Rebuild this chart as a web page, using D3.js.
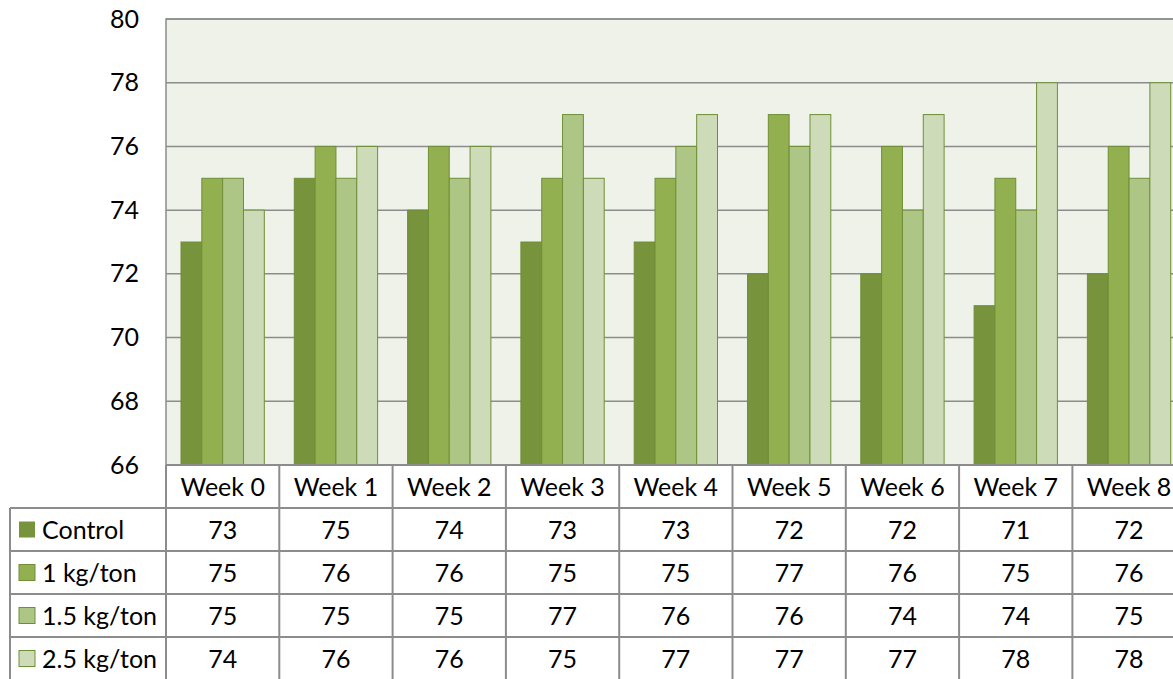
<!DOCTYPE html>
<html>
<head>
<meta charset="utf-8">
<script src="https://cdn.jsdelivr.net/npm/d3@7"></script>
<style>
  html, body { margin: 0; padding: 0; background: #fff; overflow: hidden; }
  text { font-family: Lato, "Open Sans", sans-serif; fill: #000; }
</style>
</head>
<body>
<div id="chart"></div>
<script>
// chart values
var weeks = ["Week 0", "Week 1", "Week 2", "Week 3", "Week 4", "Week 5", "Week 6", "Week 7", "Week 8"];
var seriesNames = ["Control", "1 kg/ton", "1.5 kg/ton", "2.5 kg/ton"];
var control = [73, 75, 74, 73, 73, 72, 72, 71, 72];
var kg1 = [75, 76, 76, 75, 75, 77, 76, 75, 76];
var kg15 = [75, 75, 75, 77, 76, 76, 74, 74, 75];
var kg25 = [74, 76, 76, 75, 77, 77, 77, 78, 78];
var yTicks = [66, 68, 70, 72, 74, 76, 78, 80];

var seriesValues = [control, kg1, kg15, kg25];
var colors = ["#77933c", "#92b050", "#adc686", "#cddbb8"];
var strokeColor = "#6f8f37";
var lineColor = "#8c8c8c";

var W = 1173, H = 679;
var plotLeft = 166, plotTop = 19, plotBottom = 465;
var catWidth = 113.3;
var plotRight = plotLeft + catWidth * weeks.length;
var rowH = 43;
var tableLeft = 10;
var fontSize = 25;

var svg = d3.select("#chart").append("svg")
    .attr("width", W)
    .attr("height", H);

var x0 = d3.scaleBand()
    .domain(weeks)
    .range([plotLeft, plotRight]);

var x1 = d3.scaleBand()
    .domain(seriesNames)
    .range([0, x0.bandwidth()])
    .paddingOuter(0.72);

var y = d3.scaleLinear()
    .domain([66, 80])
    .range([plotBottom, plotTop]);

// plot background
svg.append("rect")
    .attr("x", plotLeft)
    .attr("y", plotTop)
    .attr("width", plotRight - plotLeft)
    .attr("height", plotBottom - plotTop)
    .style("fill", "#eff2e9");

// gridlines
svg.append("g").selectAll("line")
    .data(yTicks.filter(function(d) { return d > 66; }))
  .enter().append("line")
    .attr("x1", plotLeft)
    .attr("x2", plotRight)
    .attr("y1", function(d) { return y(d); })
    .attr("y2", function(d) { return y(d); })
    .style("stroke", lineColor)
    .style("stroke-width", 1.5);

// y axis labels
var yAxis = d3.axisLeft(y).tickValues(yTicks).tickSize(0).tickPadding(27);
var yg = svg.append("g")
    .attr("transform", "translate(" + plotLeft + ",0)")
    .call(yAxis);
yg.select(".domain").remove();
yg.selectAll("text")
    .style("font-family", "Lato, 'Open Sans', sans-serif")
    .style("font-size", fontSize + "px")
    .style("fill", "#000");

// bars
var barData = [];
weeks.forEach(function(w, i) {
    seriesNames.forEach(function(s, j) {
        barData.push({ week: w, series: s, value: seriesValues[j][i], idx: j });
    });
});

svg.append("g").selectAll("rect")
    .data(barData)
  .enter().append("rect")
    .attr("x", function(d) { return x0(d.week) + x1(d.series); })
    .attr("y", function(d) { return y(d.value); })
    .attr("width", x1.bandwidth())
    .attr("height", function(d) { return plotBottom - y(d.value); })
    .style("fill", function(d) { return colors[d.idx]; })
    .style("stroke", strokeColor)
    .style("stroke-width", 1);

// plot border (top + left)
svg.append("path")
    .attr("d", "M" + plotRight + "," + plotTop + "H" + plotLeft + "V" + plotBottom)
    .style("fill", "none")
    .style("stroke", lineColor)
    .style("stroke-width", 1.5);

// data table
var table = svg.append("g");
var tableBottom = plotBottom + rowH * (seriesNames.length + 1);

// horizontal lines
table.append("line")
    .attr("x1", plotLeft).attr("x2", plotRight)
    .attr("y1", plotBottom).attr("y2", plotBottom)
    .style("stroke", lineColor).style("stroke-width", 2);
table.selectAll(".hline")
    .data(d3.range(1, seriesNames.length + 1))
  .enter().append("line")
    .attr("class", "hline")
    .attr("x1", tableLeft).attr("x2", plotRight)
    .attr("y1", function(d) { return plotBottom + d * rowH; })
    .attr("y2", function(d) { return plotBottom + d * rowH; })
    .style("stroke", lineColor).style("stroke-width", 2);

// vertical lines
table.selectAll(".vline")
    .data(weeks)
  .enter().append("line")
    .attr("class", "vline")
    .attr("x1", function(d) { return x0(d); })
    .attr("x2", function(d) { return x0(d); })
    .attr("y1", plotBottom).attr("y2", tableBottom)
    .style("stroke", lineColor).style("stroke-width", 2);
table.append("line")
    .attr("x1", tableLeft).attr("x2", tableLeft)
    .attr("y1", plotBottom + rowH).attr("y2", tableBottom)
    .style("stroke", lineColor).style("stroke-width", 2);

// header labels
table.selectAll(".head")
    .data(weeks)
  .enter().append("text")
    .attr("class", "head")
    .attr("x", function(d) { return x0(d) + x0.bandwidth() / 2; })
    .attr("y", plotBottom + rowH / 2)
    .attr("dy", "0.36em")
    .attr("text-anchor", "middle")
    .style("font-size", fontSize + "px")
    .text(function(d) { return d; });

// legend keys + names
seriesNames.forEach(function(s, j) {
    var cy = plotBottom + (j + 1) * rowH + rowH / 2;
    table.append("rect")
        .attr("x", 19)
        .attr("y", cy - 8)
        .attr("width", 16)
        .attr("height", 16)
        .style("fill", colors[j])
        .style("stroke", j === 0 ? "none" : strokeColor)
        .style("stroke-width", 1);
    table.append("text")
        .attr("x", 42)
        .attr("y", cy)
        .attr("dy", "0.36em")
        .style("font-size", fontSize + "px")
        .text(s);

    table.selectAll(".val" + j)
        .data(seriesValues[j])
      .enter().append("text")
        .attr("x", function(d, i) { return x0(weeks[i]) + x0.bandwidth() / 2; })
        .attr("y", cy)
        .attr("dy", "0.36em")
        .attr("text-anchor", "middle")
        .style("font-size", fontSize + "px")
        .text(function(d) { return d; });
});
</script>
</body>
</html>
